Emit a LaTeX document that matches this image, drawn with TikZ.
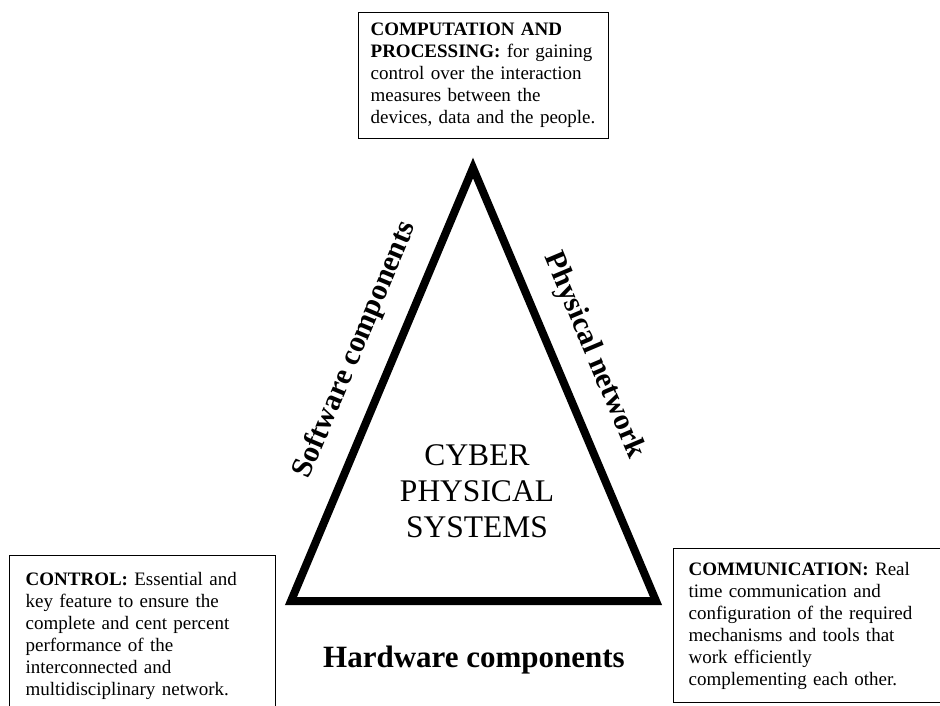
\documentclass[tikz,border=0pt]{standalone}
\usepackage{fontspec}
\setmainfont{Liberation Serif}
\begin{document}
\hyphenpenalty=10000
\begin{tikzpicture}[x=1bp,y=-1bp,
  infobox/.style={draw=black, line width=1.3bp, align=left, anchor=north west,
    inner xsep=15bp, inner ysep=0bp,
    font=\fontsize{19bp}{22bp}\selectfont},
  sidelabel/.style={font=\fontsize{30bp}{34bp}\selectfont\bfseries, inner sep=0bp},
  cornertri/.style={draw=black, line width=8bp, line join=miter}]
\useasboundingbox (0,0) rectangle (940,706);

% triangle corners
\coordinate (T) at (473,168);
\coordinate (L) at (291,601);
\coordinate (R) at (656,601);
\draw[cornertri] (L) -- (T) -- (R) -- cycle;

% side labels
\node[sidelabel, rotate=67.2] (sw) at (355.4,349.9) {Software components};
\node[sidelabel, rotate=-67.1] (pn) at (593.6,355.8) {Physical network};
\node[sidelabel, font=\fontsize{31bp}{34bp}\selectfont\bfseries] (hw) at (474,660) {Hardware components};

% centre title
\node[align=center, font=\fontsize{31.5bp}{36bp}\selectfont, inner sep=0bp] (cps) at (477,491)
  {CYBER\\PHYSICAL\\SYSTEMS};

% description boxes
\node[infobox, minimum width=250bp, minimum height=126bp, text width=226bp, inner xsep=12bp] (comp) at (358,12)
  {\textbf{COMPUTATION AND}\\
   \textbf{PROCESSING:} for gaining\\
   control over the interaction\\
   measures between the\\
   devices, data and the people.};

\node[infobox, minimum width=266bp, minimum height=160bp, text width=234bp, inner xsep=16bp] (ctrl) at (9,555)
  {\textbf{CONTROL:} Essential and\\
   key feature to ensure the\\
   complete and cent percent\\
   performance of the\\
   interconnected and\\
   multidisciplinary network.};

\node[infobox, minimum width=270bp, minimum height=154bp, text width=240bp] (comm) at (673,548)
  {\textbf{COMMUNICATION:} Real\\
   time communication and\\
   configuration of the required\\
   mechanisms and tools that\\
   work efficiently\\
   complementing each other.};
\end{tikzpicture}
\end{document}
